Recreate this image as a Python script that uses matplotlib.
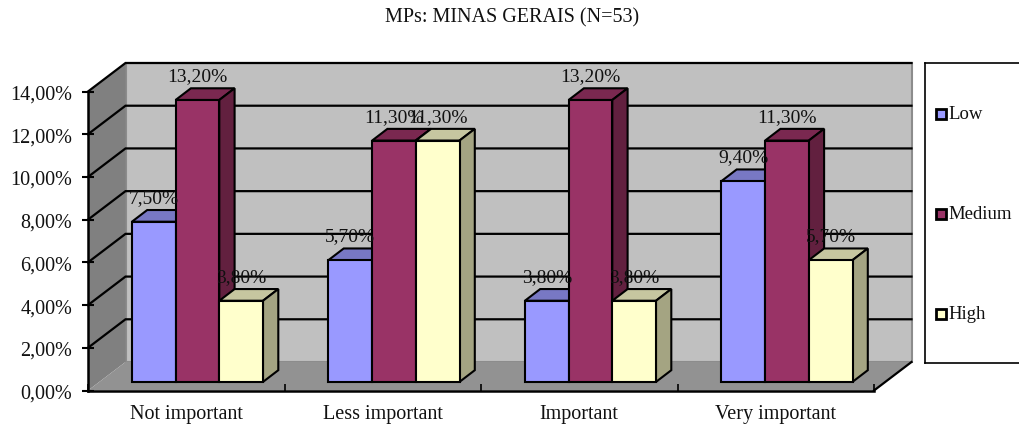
import matplotlib
matplotlib.use('Agg')
import matplotlib.pyplot as plt
from matplotlib.patches import Polygon, Rectangle
from matplotlib.ticker import FuncFormatter

categories = ['Not important', 'Less important', 'Important', 'Very important']
low = [7.5, 5.7, 3.8, 9.4]
medium = [13.2, 11.3, 13.2, 11.3]
high = [3.8, 11.3, 3.8, 5.7]
series_names = ['Low', 'Medium', 'High']
colors = ['#9999FF', '#993366', '#FFFFCC']
tops = ['#7878C4', '#7A2850', '#C6C6A0']
sides = ['#6060A0', '#62203F', '#A4A482']

W, H = 1019, 427
plt.rcParams['font.family'] = ['Liberation Serif', 'DejaVu Serif']

fig = plt.figure(figsize=(W / 100, H / 100), dpi=100)

# front plane of the fake 3d box, pixels measured on the reference
left, right, bottom, top = 88, 874, 391.5, 92.5
ax = fig.add_axes([left / W, 1 - bottom / H, (right - left) / W, (bottom - top) / H])
ax.set_xlim(0, 4)
ax.set_ylim(0, 14)
ax.patch.set_visible(False)

px = 4 / (right - left)
py = 14 / (bottom - top)
wall_dx, wall_dy = 37.5 * px, 28.5 * py
bar_dx, bar_dy = 15.3 * px, 11.7 * py
off_dx, off_dy = 11.2 * px, 8.6 * py
bar_w = 43.7 * px

# walls and floor
ax.add_patch(Polygon([(wall_dx, wall_dy), (4 + wall_dx, wall_dy), (4 + wall_dx, 14 + wall_dy), (wall_dx, 14 + wall_dy)],
                     fc='#C0C0C0', ec='#8C8C8C', lw=1.5, clip_on=False, zorder=1))
ax.add_patch(Polygon([(0, 0), (wall_dx, wall_dy), (wall_dx, 14 + wall_dy), (0, 14)],
                     fc='#808080', ec='none', clip_on=False, zorder=1))
ax.add_patch(Polygon([(0, 0), (4, 0), (4 + wall_dx, wall_dy), (wall_dx, wall_dy)],
                     fc='#929292', ec='none', clip_on=False, zorder=1))
ax.plot([4, 4 + wall_dx], [0, wall_dy], color='black', lw=1.6, clip_on=False, zorder=2)

# gridlines run along the side wall and then the back wall
for v in range(2, 16, 2):
    ax.plot([0, wall_dx, 4 + wall_dx], [v, v + wall_dy, v + wall_dy], color='black', lw=1.6,
            clip_on=False, zorder=2, solid_joinstyle='miter')

for i in range(len(categories)):
    for j, vals in enumerate([low, medium, high]):
        v = vals[i]
        x0 = i + 0.5 + (j - 1.5) * bar_w + off_dx
        z = 3 + i + j * 0.1
        ax.bar(x0, v, bar_w, bottom=off_dy, align='edge', color=colors[j], edgecolor='black',
               linewidth=1.5, clip_on=False, zorder=z + 0.02)
        y1 = v + off_dy
        ax.add_patch(Polygon([(x0, y1), (x0 + bar_w, y1), (x0 + bar_w + bar_dx, y1 + bar_dy), (x0 + bar_dx, y1 + bar_dy)],
                             fc=tops[j], ec='black', lw=1.5, clip_on=False, zorder=z))
        ax.add_patch(Polygon([(x0 + bar_w, off_dy), (x0 + bar_w + bar_dx, off_dy + bar_dy),
                              (x0 + bar_w + bar_dx, y1 + bar_dy), (x0 + bar_w, y1)],
                             fc=sides[j], ec='black', lw=1.5, clip_on=False, zorder=z))
        label = f'{v:.2f}%'.replace('.', ',')
        ax.text(x0 + bar_w / 2, y1 + bar_dy + 4 * py, label, ha='center', va='bottom',
                fontsize=14, color='#111111', zorder=20, clip_on=False)

# axes
for s in ['top', 'right']:
    ax.spines[s].set_visible(False)
for s in ['left', 'bottom']:
    ax.spines[s].set_linewidth(1.8)
    ax.spines[s].set_zorder(2.5)
ax.set_yticks(range(0, 16, 2))
ax.yaxis.set_major_formatter(FuncFormatter(lambda v, p: f'{v:.2f}%'.replace('.', ',')))
ax.tick_params(axis='y', direction='inout', length=9, width=1.5, labelsize=14.5, pad=7, labelcolor='#111111')
ax.set_xticks(range(5))
ax.set_xticklabels([])
ax.tick_params(axis='x', which='major', direction='in', length=5, width=1.2)
ax.set_xticks([i + 0.5 for i in range(4)], minor=True)
ax.set_xticklabels(categories, minor=True, fontsize=14.5, color='#111111')
ax.tick_params(axis='x', which='minor', length=0, pad=10)

fig.text(512 / W, 1 - 18 / H, 'MPs: MINAS GERAIS (N=53)', ha='center', va='center', fontsize=14.5, color='#111111')

# legend box runs off the right edge of the picture
leg = fig.add_axes([925 / W, 1 - 364 / H, (W - 925) / W, 300 / H])
leg.set_xlim(925, W)
leg.set_ylim(364, 64)
leg.set_xticks([])
leg.set_yticks([])
leg.spines['right'].set_visible(False)
for s in ['top', 'left', 'bottom']:
    leg.spines[s].set_linewidth(1.2)
for name, c, y in zip(series_names, colors, [114.5, 215, 315]):
    leg.add_patch(Rectangle((935.5, y - 5), 10, 10, fc=c, ec='black', lw=2))
    leg.text(948, y, name, va='center', ha='left', fontsize=13.5, color='#111111')

fig.savefig('out.png', dpi=100)
